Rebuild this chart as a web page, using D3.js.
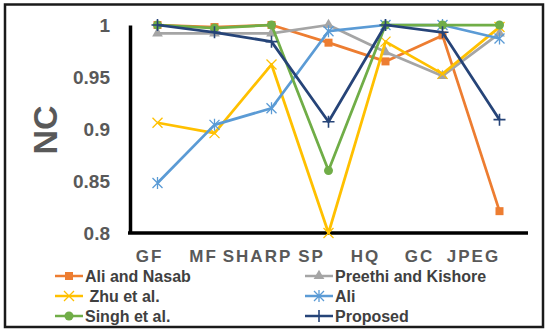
<!DOCTYPE html>
<html>
<head>
<meta charset="utf-8">
<script src="https://cdn.jsdelivr.net/npm/d3@7"></script>
<style>
  body { margin: 0; background: #fff; }
  text { font-family: "Liberation Sans", Arial, sans-serif; font-weight: bold; }
</style>
</head>
<body>
<svg></svg>
<script>
// chart data
let categories = ["GF", "MF", "SHARP", "SP", "HQ", "GC", "JPEG"];
let yTicks = [0.8, 0.85, 0.9, 0.95, 1];

let aliNasab = [1.0, 0.998, 1.0, 0.983, 0.965, 0.990, 0.821];
let preethi  = [0.992, 0.992, 0.992, 1.0, 0.974, 0.951, 0.992];
let zhu      = [0.906, 0.896, 0.962, 0.8, 0.984, 0.953, 0.998];
let ali      = [0.848, 0.904, 0.920, 0.994, 1.0, 1.0, 0.987];
let singh    = [1.0, 0.997, 1.0, 0.860, 1.0, 1.0, 1.0];
let proposed = [1.0, 0.993, 0.984, 0.907, 1.0, 0.993, 0.909];

let seriesNames = ["Ali and Nasab", "Preethi and Kishore", " Zhu et al.", "Ali", "Singh et al.", "Proposed"];
let seriesValues = [aliNasab, preethi, zhu, ali, singh, proposed];
let seriesColors = ["#ED7D31", "#A5A5A5", "#FFC000", "#5B9BD5", "#70AD47", "#264478"];
let seriesMarkers = ["square", "triangle", "x", "star", "circle", "plus"];

let svgWidth = 550;
let svgHeight = 333;

let svg = d3.select("svg")
  .attr("width", svgWidth)
  .attr("height", svgHeight);

// marco exterior
svg.append("rect")
  .attr("x", 5).attr("y", 4.5)
  .attr("width", 538).attr("height", 322.5)
  .attr("fill", "none")
  .attr("stroke", "#1a1a1a")
  .attr("stroke-width", 2.5);

let x = d3.scalePoint().domain(categories).range([129, 528]).padding(0.5);
let xLabels = d3.scalePoint().domain(categories).range([122, 500]).padding(0.5);
let y = d3.scaleLinear().domain([0.8, 1]).range([233, 25]);

// eje y
let yAxis = svg.append("g")
  .attr("transform", "translate(130,0)")
  .call(d3.axisLeft(y).tickValues(yTicks).tickSize(0).tickSizeOuter(0).tickPadding(20)
    .tickFormat(d3.format("~g")));
yAxis.select(".domain").attr("stroke", "#000").attr("stroke-width", 3.5);
yAxis.selectAll("text")
  .attr("fill", "#595959")
  .attr("font-size", 19)
  .attr("font-family", "Liberation Sans, Arial, sans-serif");

// linea del eje x
let xAxis = svg.append("g")
  .attr("transform", "translate(0,233)")
  .call(d3.axisBottom(x).tickSize(0).tickSizeOuter(0).tickFormat(""));
xAxis.select(".domain").attr("stroke", "#000").attr("stroke-width", 3.5)
  .attr("d", "M128,0H528");

// etiquetas x
let xLab = svg.append("g")
  .attr("transform", "translate(0,233)")
  .call(d3.axisBottom(xLabels).tickSize(0).tickPadding(17));
xLab.select(".domain").remove();
xLab.selectAll("text")
  .attr("fill", "#595959")
  .attr("font-size", 17)
  .attr("letter-spacing", 2)
  .attr("font-family", "Liberation Sans, Arial, sans-serif");

// titulo del eje
svg.append("text")
  .attr("transform", "translate(57,130) rotate(-90)")
  .attr("text-anchor", "middle")
  .attr("fill", "#595959")
  .attr("font-size", 34)
  .text("NC");

// marcadores
function drawMarker(g, type, color, cx, cy) {
  if (type === "square") {
    g.append("rect").attr("x", cx - 4).attr("y", cy - 4).attr("width", 8).attr("height", 8).attr("fill", color);
  } else if (type === "triangle") {
    g.append("path").attr("d", d3.symbol(d3.symbolTriangle, 50)()).attr("transform", "translate(" + cx + "," + cy + ")").attr("fill", color);
  } else if (type === "circle") {
    g.append("circle").attr("cx", cx).attr("cy", cy).attr("r", 4.5).attr("fill", color);
  } else if (type === "x") {
    g.append("path").attr("d", "M" + (cx - 5) + "," + (cy - 5) + "L" + (cx + 5) + "," + (cy + 5) + "M" + (cx - 5) + "," + (cy + 5) + "L" + (cx + 5) + "," + (cy - 5))
      .attr("stroke", color).attr("stroke-width", 1.3);
  } else if (type === "star") {
    g.append("path").attr("d", "M" + (cx - 5) + "," + (cy - 5) + "L" + (cx + 5) + "," + (cy + 5) + "M" + (cx - 5) + "," + (cy + 5) + "L" + (cx + 5) + "," + (cy - 5) + "M" + cx + "," + (cy - 6) + "V" + (cy + 6))
      .attr("stroke", color).attr("stroke-width", 1.3);
  } else if (type === "plus") {
    g.append("path").attr("d", "M" + (cx - 6) + "," + cy + "H" + (cx + 6) + "M" + cx + "," + (cy - 6) + "V" + (cy + 6))
      .attr("stroke", color).attr("stroke-width", 1.6);
  }
}

let line = d3.line()
  .x(function(d, i) { return x(categories[i]); })
  .y(function(d) { return y(d); });

seriesValues.forEach(function(vals, s) {
  let g = svg.append("g");
  g.append("path")
    .attr("d", line(vals))
    .attr("fill", "none")
    .attr("stroke", seriesColors[s])
    .attr("stroke-width", 2.75)
    .attr("stroke-linejoin", "round");
  vals.forEach(function(v, i) {
    drawMarker(g, seriesMarkers[s], seriesColors[s], x(categories[i]), y(v));
  });
});

// leyenda
let legendX = [55, 305];
let legendY = [276, 296, 316];
seriesNames.forEach(function(name, s) {
  let lx = legendX[s % 2];
  let ly = legendY[Math.floor(s / 2)];
  let g = svg.append("g");
  g.append("line")
    .attr("x1", lx).attr("x2", lx + 28)
    .attr("y1", ly).attr("y2", ly)
    .attr("stroke", seriesColors[s]).attr("stroke-width", 2.5);
  drawMarker(g, seriesMarkers[s], seriesColors[s], lx + 14, ly);
  g.append("text")
    .attr("x", lx + 30)
    .attr("y", ly)
    .attr("dy", "0.36em")
    .attr("fill", "#404040")
    .attr("font-size", 16)
    .attr("xml:space", "preserve")
    .style("white-space", "pre")
    .text(name);
});
</script>
</body>
</html>
